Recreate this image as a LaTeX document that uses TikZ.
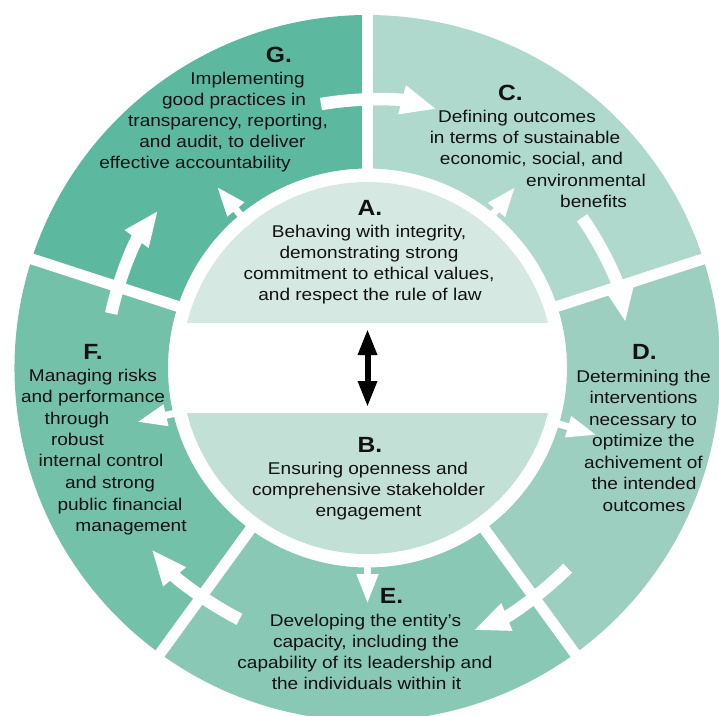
\documentclass[tikz,border=0pt]{standalone}
\usepackage{fontspec}
\setmainfont{Liberation Sans}[FakeStretch=1.12]
\usetikzlibrary{arrows.meta}
\definecolor{colG}{RGB}{92,185,160}
\definecolor{colC}{RGB}{176,217,206}
\definecolor{colD}{RGB}{157,207,192}
\definecolor{colE}{RGB}{137,200,180}
\definecolor{colF}{RGB}{116,193,170}
\definecolor{colA}{RGB}{213,233,226}
\definecolor{colB}{RGB}{195,224,214}
\definecolor{txtcol}{RGB}{17,17,17}
\tikzset{
  txt/.style={font=\fontsize{17}{21}\selectfont, text=txtcol, inner sep=0pt, anchor=base},
  lbl/.style={font=\fontsize{22}{26}\selectfont\bfseries, text=txtcol, inner sep=0pt, anchor=base},
  divider/.style={draw=white, line width=11pt},
  bigarrow/.style={draw=white, line width=12.5pt, -{Triangle[length=36pt,width=27pt]}},
  smallarrow/.style={draw=white, line width=7pt, -{Triangle[length=30pt,width=20pt]}},
  blackarrow/.style={draw=black, line width=6pt, {Triangle[length=26pt,width=18pt]}-{Triangle[length=26pt,width=18pt]}},
}
\begin{document}
\begin{tikzpicture}[x=1pt,y=1pt]
\useasboundingbox (0,0) rectangle (719,-715);
\clip (0,0) rectangle (719,-715);
\begin{scope}[shift={(367.5,-368)}]
  % ring sectors
  \fill[colG] (90:353) arc[start angle=90,end angle=162,radius=353] -- (162:199.5) arc[start angle=162,end angle=90,radius=199.5] -- cycle;
  \fill[colC] (18:353) arc[start angle=18,end angle=90,radius=353] -- (90:199.5) arc[start angle=90,end angle=18,radius=199.5] -- cycle;
  \fill[colD] (-54:353) arc[start angle=-54,end angle=18,radius=353] -- (18:199.5) arc[start angle=18,end angle=-54,radius=199.5] -- cycle;
  \fill[colE] (-126:353) arc[start angle=-126,end angle=-54,radius=353] -- (-54:199.5) arc[start angle=-54,end angle=-126,radius=199.5] -- cycle;
  \fill[colF] (162:353) arc[start angle=162,end angle=234,radius=353] -- (234:199.5) arc[start angle=234,end angle=162,radius=199.5] -- cycle;
  % dividers
  \foreach \a in {18,90,162,234,306} \draw[divider] (\a:190) -- (\a:362);
  % curved arrows between segments
  \draw[bigarrow] (100:268) arc[start angle=100,end angle=75,radius=268];
  \draw[bigarrow] (35:262) arc[start angle=35,end angle=10,radius=262];
  \draw[bigarrow] (-45:283) arc[start angle=-45,end angle=-68,radius=283];
  \draw[bigarrow] (243:282) arc[start angle=243,end angle=220,radius=282];
  \draw[bigarrow] (168:262) arc[start angle=168,end angle=143,radius=262];
  % disk
  \coordinate (ctr) at (0,0);
  \begin{scope}
    \clip (ctr) circle[radius=186];
    \fill[colA] (-190,45) rectangle (190,190);
    \fill[colB] (-190,-45) rectangle (190,-190);
  \end{scope}
  % radial arrows from the disk
  \coordinate (sG0) at (129.7:186); \coordinate (sG1) at (129.7:236);
  \coordinate (sC0) at (50.8:186);  \coordinate (sC1) at (50.8:234);
  \coordinate (sD0) at (-16.3:186); \coordinate (sD1) at (-16.3:239);
  \coordinate (sE0) at (-90:186);   \coordinate (sE1) at (-90:236);
  \coordinate (sF0) at (193.2:186); \coordinate (sF1) at (193.2:237);
  \draw[smallarrow] (sG0) -- (sG1);
  \draw[smallarrow] (sC0) -- (sC1);
  \draw[smallarrow] (sD0) -- (sD1);
  \draw[smallarrow] (sE0) -- (sE1);
  \draw[smallarrow] (sF0) -- (sF1);
  % black double arrow
  \coordinate (atop) at (0,39);
  \coordinate (bbot) at (0,-39);
  \draw[blackarrow] (atop) -- (bbot);
\end{scope}
% G
\node[lbl] (gL) at (279,-62) {G.};
\node[txt] (g1) at (247.5,-84) {Implementing};
\node[txt] (g2) at (234,-105) {good practices in};
\node[txt] (g3) at (228,-126) {transparency, reporting,};
\node[txt] (g4) at (222.5,-147) {and audit, to deliver};
\node[txt] (g5) at (195,-168) {effective accountability};
% A
\node[lbl] (aL) at (370,-215) {A.};
\node[txt] (a1) at (369,-237) {Behaving with integrity,};
\node[txt] (a2) at (369,-258) {demonstrating strong};
\node[txt] (a3) at (369,-279) {commitment to ethical values,};
\node[txt] (a4) at (370,-300) {and respect the rule of law};
% B
\node[lbl] (bL) at (370,-452) {B.};
\node[txt] (b1) at (368,-474) {Ensuring openness and};
\node[txt] (b2) at (368.5,-495) {comprehensive stakeholder};
\node[txt] (b3) at (368.5,-516) {engagement};
% C
\node[lbl] (cL) at (510.5,-100) {C.};
\node[txt] (c1) at (517,-122.5) {Defining outcomes};
\node[txt] (c2) at (525,-143.5) {in terms of sustainable};
\node[txt] (c3) at (531.5,-164.5) {economic, social, and};
\node[txt] (c4) at (586,-186) {environmental};
\node[txt] (c5) at (593.5,-207) {benefits};
% D
\node[lbl] (dL) at (644.5,-359) {D.};
\node[txt] (d1) at (643.5,-382) {Determining the};
\node[txt] (d2) at (643.5,-403.5) {interventions};
\node[txt] (d3) at (643,-425) {necessary to};
\node[txt] (d4) at (643.5,-446.5) {optimize the};
\node[txt] (d5) at (643.5,-468) {achivement of};
\node[txt] (d6) at (644,-489.5) {the intended};
\node[txt] (d7) at (644,-511) {outcomes};
% E
\node[lbl] (eL) at (391.5,-603) {E.};
\node[txt] (e1) at (365.5,-626) {Developing the entity’s};
\node[txt] (e2) at (366,-647) {capacity, including the};
\node[txt] (e3) at (365,-668) {capability of its leadership and};
\node[txt] (e4) at (366.5,-689) {the individuals within it};
% F
\node[lbl] (fL) at (93,-359) {F.};
\node[txt] (f1) at (93,-381.5) {Managing risks};
\node[txt] (f2) at (93,-402.7) {and performance};
\node[txt] (f3) at (77,-424.5) {through};
\node[txt] (f4) at (77.5,-445.7) {robust};
\node[txt] (f5) at (101,-466.7) {internal control};
\node[txt] (f6) at (110,-488) {and strong};
\node[txt] (f7) at (120,-510) {public financial};
\node[txt] (f8) at (131,-531) {management};
\end{tikzpicture}
\end{document}
